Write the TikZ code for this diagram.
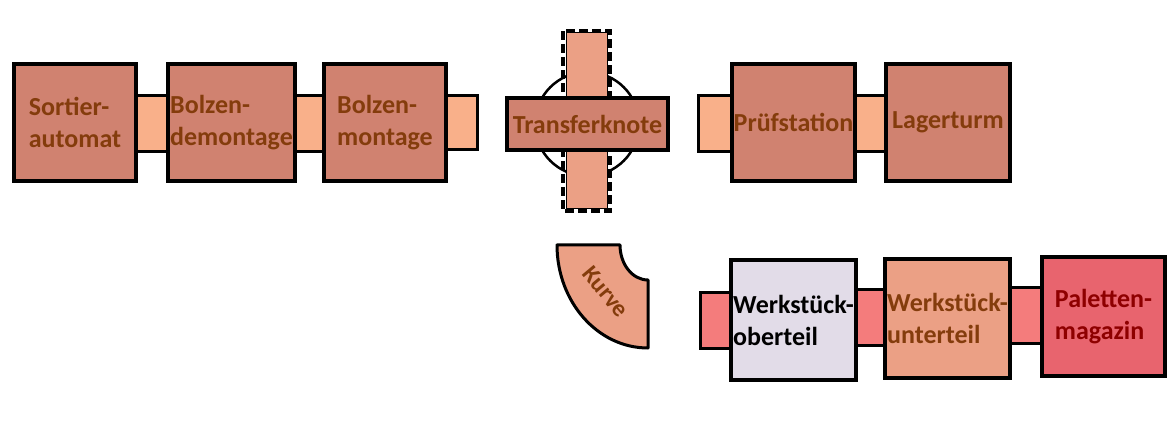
\documentclass[tikz,border=0pt]{standalone}
\usepackage{fontspec}
\setmainfont{Carlito}

\definecolor{boxred}{HTML}{D08270}
\definecolor{boxsalmon}{HTML}{EBA085}
\definecolor{boxlilac}{HTML}{E2DCE8}
\definecolor{boxcoral}{HTML}{E8646E}
\definecolor{joinorange}{HTML}{F9B08A}
\definecolor{joinpink}{HTML}{F47C7C}
\definecolor{txtbrown}{HTML}{843C0C}
\definecolor{txtred}{HTML}{8E0000}

\tikzset{
  station/.style={draw=black, line width=4pt, fill=boxred, text=txtbrown,
    font=\bfseries\fontsize{26}{32}\selectfont, align=left, inner sep=0pt},
  joint/.style={draw=black, line width=3pt}
}

\begin{document}
\begin{tikzpicture}[x=1pt, y=-1pt]
\useasboundingbox (0,0) rectangle (1174,427);

% Verbindungsstuecke oben
\begin{scope}[joint, fill=joinorange]
\filldraw (136,96) rectangle (168,152);
\filldraw (295,96) rectangle (324,152);
\filldraw (446,96) rectangle (477,150);
\filldraw (698,96) rectangle (732,152);
\filldraw (855,96) rectangle (886,152);
\end{scope}

% Verbindungsstuecke unten
\begin{scope}[joint, fill=joinpink]
\filldraw (700,293) rectangle (732,348);
\filldraw (856,290) rectangle (885,345);
\filldraw (1010,288) rectangle (1042,343);
\end{scope}

% Transferknote
\draw [line width=2.5pt] (587,124) circle (52);
\filldraw [fill=boxsalmon, line width=1pt] (566,33) rectangle (607,209);
\draw [line width=3.5pt, dashed, dash pattern=on 9pt off 4pt] (563,31) rectangle (610,211);
\node [station, minimum width=161pt, minimum height=52pt] (tk) at (587.5,124) {Transferknote};

% Stationen oben
\node [station, minimum width=122pt, minimum height=117pt] (sa) at (75,122.5) {Sortier-\\automat};
\node [station, minimum width=127pt, minimum height=117pt] (bd) at (231.5,122.5) {Bolzen-\\demontage};
\node [station, minimum width=122pt, minimum height=117pt] (bm) at (385,122.5) {Bolzen-\\montage};
\node [station, minimum width=123pt, minimum height=117pt] (ps) at (793.5,122.5) {Prüfstation};
\node [station, minimum width=124pt, minimum height=117pt] (lt) at (948,122.5) {Lagerturm};

% Stationen unten
\node [station, fill=boxlilac, text=black, minimum width=125pt, minimum height=120pt] (wo) at (793.5,320) {Werkstück-\\oberteil};
\node [station, fill=boxsalmon, minimum width=125pt, minimum height=119pt] (wu) at (947.5,318.5) {Werkstück-\\unterteil};
\node [station, fill=boxcoral, text=txtred, minimum width=123pt, minimum height=119pt] (pm) at (1103.5,316.5) {Paletten-\\magazin};

% Kurve
\filldraw [fill=boxsalmon, line width=3pt, line join=round]
  (557,245) -- (620,245) .. controls (620,264.3) and (632.5,280) .. (648,280)
  -- (648,348) .. controls (597.7,348) and (557,301.9) .. (557,245) -- cycle;
\node [text=txtbrown, font=\bfseries\fontsize{24}{28}\selectfont, rotate=-50] (ku) at (606,292) {Kurve};

\end{tikzpicture}
\end{document}
